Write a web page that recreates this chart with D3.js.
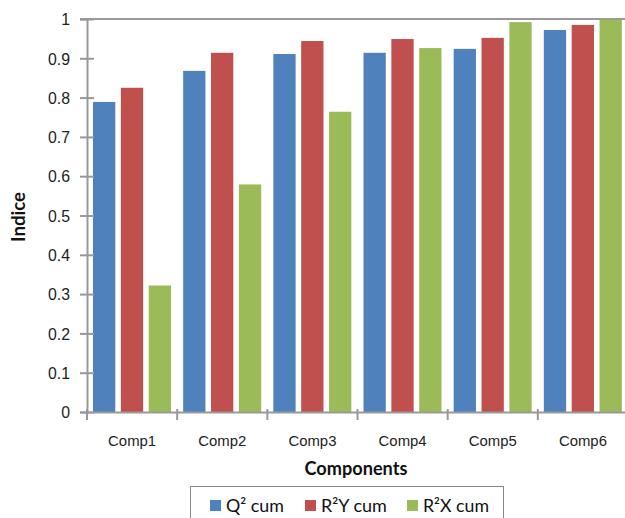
<!DOCTYPE html>
<html><head><meta charset="utf-8">
<script src="https://cdn.jsdelivr.net/npm/d3@7"></script>
<style>body{margin:0;background:#fff;overflow:hidden}svg{display:block;font-family:Lato,"Open Sans",sans-serif}</style>
</head><body>
<script>
const categories = ["Comp1","Comp2","Comp3","Comp4","Comp5","Comp6"];
const seriesNames = ["Q² cum","R²Y cum","R²X cum"];
const q2cum = [0.789,0.868,0.911,0.914,0.924,0.972];
const r2ycum = [0.825,0.914,0.944,0.949,0.952,0.985];
const r2xcum = [0.322,0.579,0.764,0.926,0.992,0.998];
const yTicks = [0,0.1,0.2,0.3,0.4,0.5,0.6,0.7,0.8,0.9,1];
const colors = ["#4F81BD","#C0504D","#9BBB59"];

(function(){
const W=625,H=518;
const svg=d3.select("body").append("svg").attr("width",W).attr("height",H);
const mLeft=87,mRight=628,mTop=19,mBottom=412;
const x=d3.scaleBand().domain(categories).range([mLeft,mRight]).paddingInner(0).paddingOuter(0);
const xs=d3.scaleBand().domain(seriesNames).range([6,84]).paddingInner(0.2).paddingOuter(0);
const y=d3.scaleLinear().domain([0,1]).range([mBottom,mTop]);
const data=[q2cum,r2ycum,r2xcum];

function fit(sel,target){
  sel.attr("font-size",20);
  const len=sel.node().getComputedTextLength();
  if(len>0) sel.attr("font-size",20*target/len);
  return sel;
}

svg.append("line").attr("x1",80).attr("x2",W).attr("y1",y(1)).attr("y2",y(1)).attr("stroke","#999").attr("stroke-width",2);

data.forEach((vals,si)=>{
  svg.append("g").selectAll("rect").data(vals).join("rect")
    .attr("x",(d,i)=>x(categories[i])+xs(seriesNames[si]))
    .attr("width",xs.bandwidth())
    .attr("y",d=>y(d)).attr("height",d=>y(0)-y(d))
    .attr("fill",colors[si]);
});

const ya=svg.append("g").attr("transform",`translate(${mLeft},0)`)
  .call(d3.axisLeft(y).tickValues(yTicks).tickFormat(d=>d===0?"0":d===1?"1":d3.format(".1f")(d)).tickSize(7).tickPadding(8));
ya.select(".domain").attr("stroke","#999").attr("stroke-width",2);
ya.selectAll(".tick line").attr("stroke","#999").attr("stroke-width",2).attr("x2",-7).attr("x1",7);
const yt=ya.selectAll(".tick text").attr("fill","#222").attr("x",-17).attr("dy","0.36em");
// size so "0.5" is ~22px wide
const probe=ya.selectAll(".tick text").filter(d=>d===0.5);
fit(probe,22);
yt.attr("font-size",probe.attr("font-size"));

const xa=svg.append("g").attr("transform",`translate(0,${mBottom})`)
  .call(d3.axisBottom(x).tickSize(0));
xa.select(".domain").attr("stroke","#999").attr("stroke-width",2);
const xt=xa.selectAll(".tick text").attr("fill","#222").attr("y",34).attr("dy",0);
const xprobe=xa.selectAll(".tick text").filter(d=>d==="Comp3");
fit(xprobe,48);
xt.attr("font-size",xprobe.attr("font-size"));
const bounds=categories.map(c=>x(c)).concat([x(categories[categories.length-1])+x.bandwidth()]);
xa.selectAll(".btick").data(bounds).join("line").attr("class","btick")
  .attr("x1",d=>d).attr("x2",d=>d).attr("y1",-3).attr("y2",8).attr("stroke","#999").attr("stroke-width",2);

fit(svg.append("text").attr("x",356).attr("y",475).attr("text-anchor","middle")
  .attr("font-weight","bold").attr("fill","#111").text("Components"),103);
fit(svg.append("text").attr("transform","translate(25,217) rotate(-90)").attr("text-anchor","middle")
  .attr("font-weight","bold").attr("fill","#111").text("Indice"),50);

const lg=svg.append("g");
lg.append("rect").attr("x",190.5).attr("y",486.5).attr("width",313).attr("height",40).attr("fill","#fff").attr("stroke","#888");
const lx=[210,305,407];
const lw=[58,66,66];
seriesNames.forEach((s,i)=>{
  lg.append("rect").attr("x",lx[i]).attr("y",500).attr("width",11).attr("height",11).attr("fill",colors[i]);
  fit(lg.append("text").attr("x",lx[i]+16).attr("y",512).attr("fill","#111").text(s),lw[i]);
});
})();
</script>
</body></html>
